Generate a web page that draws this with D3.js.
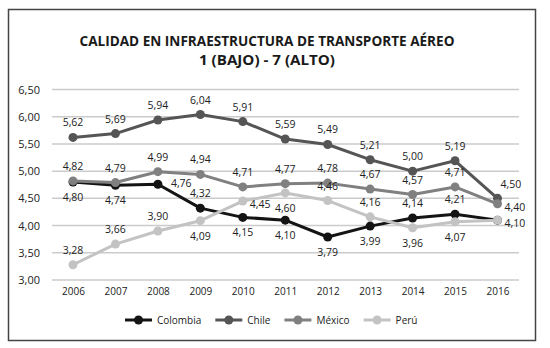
<!DOCTYPE html>
<html>
<head>
<meta charset="utf-8">
<script src="https://cdn.jsdelivr.net/npm/d3@7/dist/d3.min.js"></script>
<style>
  body { margin: 0; background: #fff; }
  text { font-family: "Open Sans", sans-serif; fill: #222; }
</style>
</head>
<body>
<script>
// data
const years = ["2006","2007","2008","2009","2010","2011","2012","2013","2014","2015","2016"];
const colombia = [4.80, 4.74, 4.76, 4.32, 4.15, 4.10, 3.79, 3.99, 4.14, 4.21, 4.10];
const chile    = [5.62, 5.69, 5.94, 6.04, 5.91, 5.59, 5.49, 5.21, 5.00, 5.19, 4.50];
const mexico   = [4.82, 4.79, 4.99, 4.94, 4.71, 4.77, 4.78, 4.67, 4.57, 4.71, 4.40];
const peru     = [3.28, 3.66, 3.90, 4.09, 4.45, 4.60, 4.46, 4.16, 3.96, 4.07, 4.10];
const yTicks = [3.0, 3.5, 4.0, 4.5, 5.0, 5.5, 6.0, 6.5];

// where each value label sits relative to its point
const colombiaPos = ["below","below","rightFar","above","below","below","below","below","above","above","none"];
const chilePos    = ["above","above","above","above","above","above","above","above","above","above","aboveRight"];
const mexicoPos   = ["above","above","above","above","above","above","above","above","above","above","right"];
const peruPos     = ["above","above","above","below","right","below","above","above","below","below","right"];

const series = [
  {name: "Colombia", values: colombia, pos: colombiaPos, color: "#141414"},
  {name: "Chile",    values: chile,    pos: chilePos,    color: "#555555"},
  {name: "México",   values: mexico,   pos: mexicoPos,   color: "#808080"},
  {name: "Perú",     values: peru,     pos: peruPos,     color: "#c3c3c3"}
];

const w = 550, h = 348;
const fmt = v => d3.format(".2f")(v).replace(".", ",");

const svg = d3.select("body").append("svg")
  .attr("width", w)
  .attr("height", h);

// frame
svg.append("rect")
  .attr("x", 8.5).attr("y", 9.5)
  .attr("width", 527).attr("height", 331)
  .attr("fill", "#fff")
  .attr("stroke", "#444")
  .attr("stroke-width", 1.5);

// title
const title = svg.append("text")
  .attr("text-anchor", "middle")
  .style("font-weight", "bold")
  .style("font-size", "15px")
  .style("fill", "#1a1a1a");
title.append("tspan").attr("x", 267).attr("y", 46)
  .attr("textLength", 375)
  .attr("lengthAdjust", "spacingAndGlyphs")
  .text("CALIDAD EN INFRAESTRUCTURA DE TRANSPORTE AÉREO");
title.append("tspan").attr("x", 267).attr("y", 65)
  .attr("textLength", 136)
  .attr("lengthAdjust", "spacingAndGlyphs")
  .text("1 (BAJO) - 7 (ALTO)");

// scales
const xScale = d3.scalePoint()
  .domain(years)
  .range([73, 497.5]);

const yScale = d3.scaleLinear()
  .domain([3, 6.5])
  .range([280, 89.5]);

// gridlines
svg.append("g")
  .selectAll("line")
  .data(yTicks)
  .enter()
  .append("line")
  .attr("x1", 52).attr("x2", 519)
  .attr("y1", d => yScale(d)).attr("y2", d => yScale(d))
  .attr("stroke", "#cbcbcb")
  .attr("stroke-width", 1.5);

// y axis labels
const yAxis = d3.axisLeft(yScale)
  .tickValues(yTicks)
  .tickFormat(fmt)
  .tickSize(0)
  .tickPadding(0);

const gy = svg.append("g")
  .attr("transform", "translate(40,0)")
  .call(yAxis);
gy.select(".domain").remove();
gy.selectAll("text")
  .style("font-family", "'Open Sans', sans-serif")
  .style("font-size", "11px")
  .attr("fill", "#222");

// x axis labels
const xAxis = d3.axisBottom(xScale)
  .tickSize(0)
  .tickPadding(0);

const gx = svg.append("g")
  .attr("transform", "translate(0,288)")
  .call(xAxis);
gx.select(".domain").remove();
gx.selectAll("text")
  .style("font-family", "'Open Sans', sans-serif")
  .style("font-size", "10px")
  .attr("fill", "#222");

// lines + markers
const line = d3.line()
  .x((d, i) => xScale(years[i]))
  .y(d => yScale(d));

series.forEach(s => {
  svg.append("path")
    .datum(s.values)
    .attr("d", line)
    .attr("fill", "none")
    .attr("stroke", s.color)
    .attr("stroke-width", 3)
    .attr("stroke-linejoin", "round");

  svg.append("g")
    .selectAll("circle")
    .data(s.values)
    .enter()
    .append("circle")
    .attr("cx", (d, i) => xScale(years[i]))
    .attr("cy", d => yScale(d))
    .attr("r", 4.5)
    .attr("fill", s.color);
});

// value labels
series.forEach(s => {
  svg.append("g")
    .selectAll("text")
    .data(s.values.map((v, i) => ({v, i})).filter(d => s.pos[d.i] != "none"))
    .enter()
    .append("text")
    .attr("x", d => {
      const p = s.pos[d.i], x = xScale(years[d.i]);
      if (p == "right") return x + 7;
      if (p == "rightFar") return x + 13;
      if (p == "aboveRight") return x + 3;
      return x;
    })
    .attr("y", d => {
      const p = s.pos[d.i], y = yScale(d.v);
      if (p == "above") return y - 15;
      if (p == "below") return y + 15;
      if (p == "aboveRight") return y - 14;
      if (p == "rightFar") return y - 1;
      return y + 3;
    })
    .attr("text-anchor", d => ["right","rightFar","aboveRight"].includes(s.pos[d.i]) ? "start" : "middle")
    .attr("dominant-baseline", "central")
    .style("font-size", "10.5px")
    .text(d => fmt(d.v));
});

// legend
const legend = svg.append("g").attr("transform", "translate(0,320)");
let lx = 125;
series.forEach(s => {
  legend.append("line")
    .attr("x1", lx).attr("x2", lx + 27)
    .attr("y1", 0).attr("y2", 0)
    .attr("stroke", s.color)
    .attr("stroke-width", 3);
  legend.append("circle")
    .attr("cx", lx + 13.5).attr("cy", 0)
    .attr("r", 4.5)
    .attr("fill", s.color);
  const t = legend.append("text")
    .attr("x", lx + 32)
    .attr("y", 0)
    .attr("dominant-baseline", "central")
    .style("font-size", "10px")
    .text(s.name);
  lx += 32 + t.node().getComputedTextLength() + 14;
});
</script>
</body>
</html>
